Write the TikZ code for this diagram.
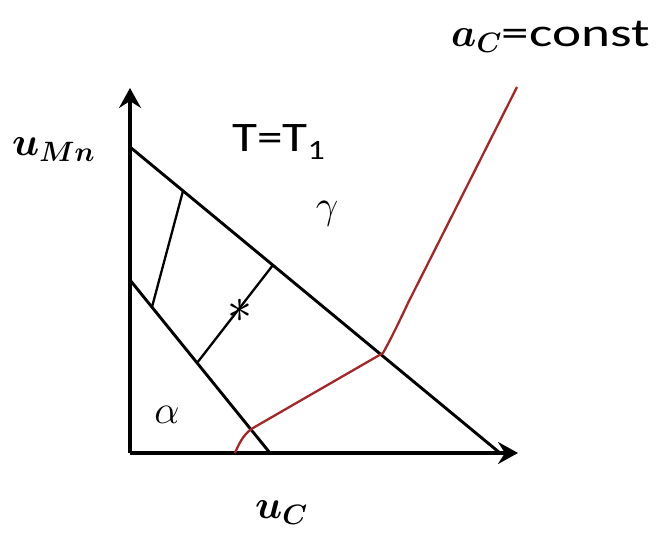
\RequirePackage{fix-cm}
\documentclass[tikz,border=0pt]{standalone}
\usepackage{fontspec}
\setmainfont{Carlito}
\usetikzlibrary{arrows.meta}
\definecolor{curvered}{RGB}{165,38,38}
\begin{document}
\begin{tikzpicture}[x=1pt,y=-1pt,
  axis/.style={line width=4.8pt,-{Stealth[length=20pt,width=22pt,inset=7pt]}},
  bound/.style={line width=2.9pt},
  tie/.style={line width=2.3pt},
  redline/.style={line width=2.3pt,draw=curvered},
  lbl/.style={inner sep=0pt,font=\fontsize{40}{48}\selectfont\boldmath},
  greek/.style={inner sep=0pt,font=\fontsize{40}{48}\selectfont}]
\useasboundingbox (0,0) rectangle (661,539);
% axes
\coordinate (O) at (130,453);
\coordinate (Ytip) at (130,88);
\coordinate (Xtip) at (518,453);
\draw[axis] (O) -- (Ytip);
\draw[axis] (O) -- (Xtip);
% phase boundaries
\coordinate (A1) at (130,147);
\coordinate (A2) at (500,453);
\coordinate (B1) at (130,280);
\coordinate (B2) at (270,453);
\draw[bound] (A1) -- (A2);
\draw[bound] (B1) -- (B2);
% tie lines
\coordinate (T1a) at (183,191);
\coordinate (T1b) at (152,307);
\coordinate (T2a) at (273,265);
\coordinate (T2b) at (197,363);
\draw[tie] (T1a) -- (T1b);
\draw[tie] (T2a) -- (T2b);
\node[inner sep=0pt,font=\fontsize{50}{56}\selectfont] (star) at (240,311) {$\ast$};
% red a_C = const curve
\coordinate (R0) at (235,453);
\coordinate (R1) at (253,428);
\coordinate (R2) at (383,353);
\coordinate (R3) at (517,87);
\draw[redline] (R0) .. controls (240,441) and (245,433) .. (R1) -- (R2)
  .. controls (392,337) and (400,320) .. (408,303) -- (R3);
% labels
\node[lbl,anchor=base west] (uMn) at (12,155) {$u_{Mn}$};
\node[lbl,anchor=base west] (uC) at (255,518) {$u_C$};
\node[lbl,anchor=base west] (aC) at (451,46) {$a_C$\scalebox{1.38}[1]{=const}};
\node[greek,anchor=base west] (TT) at (232,151) {\scalebox{1.22}[1]{\fontsize{42}{48}\selectfont T=T\raisebox{-8pt}{\fontsize{28}{30}\selectfont 1}}};
\node[greek] (gamma) at (327,214) {$\gamma$};
\node[greek] (alpha) at (167,415) {$\alpha$};
\end{tikzpicture}
\end{document}
